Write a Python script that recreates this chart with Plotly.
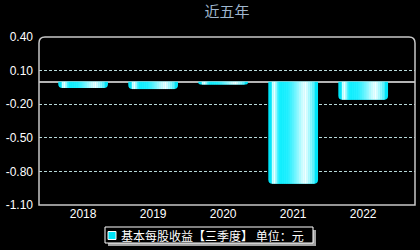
import plotly.graph_objects as go

years = ["2018", "2019", "2020", "2021", "2022"]
eps = [-0.055, -0.065, -0.025, -0.91, -0.16]
y_ticks = [0.40, 0.10, -0.20, -0.50, -0.80, -1.10]
y_tick_labels = ["0.40", "0.10", "-0.20", "-0.50", "-0.80", "-1.10"]
series_name = "基本每股收益【三季度】 单位：元"

L, R, T, B = 39, 5, 37, 45
PW, PH = 420 - L - R, 250 - T - B

def px(x):
    return (x - L) / PW

def py(y):
    return (250 - B - y) / PH

BAR_W = 0.71
fig = go.Figure()

fig.add_trace(go.Bar(
    x=list(range(len(years))), y=eps, name=series_name,
    width=BAR_W, marker=dict(color="#00e4f8", line=dict(width=0), cornerradius=4),
    showlegend=False, hoverinfo="skip",
))

stops = [(0.00, (0, 216, 240)), (0.08, (190, 255, 255)), (0.13, (235, 255, 255)),
         (0.22, (16, 240, 255)), (0.40, (40, 240, 255)), (0.60, (150, 248, 255)),
         (0.75, (245, 255, 255)), (0.86, (150, 248, 255)), (1.00, (0, 228, 248))]

def col(f):
    for (a, ca), (b, cb) in zip(stops[:-1], stops[1:]):
        if a <= f <= b:
            t = (f - a) / (b - a)
            c = [round(ca[i] + (cb[i] - ca[i]) * t) for i in range(3)]
            return "rgb(%d,%d,%d)" % tuple(c)
    return "rgb(0,228,248)"

n = 22
f0, f1 = 0.07, 0.93
sw = (f1 - f0) / n
for k in range(n):
    fc = f0 + sw * (k + 0.5)
    fig.add_trace(go.Bar(
        x=list(range(len(years))), y=eps, width=BAR_W * sw * 1.05,
        offset=-BAR_W / 2 + BAR_W * (f0 + sw * k),
        marker=dict(color=col(fc), line=dict(width=0)), showlegend=False, hoverinfo="skip",
    ))

rx, ry = 6 / PW, 6 / PH
path = f"M 0,0 L 0,{1-ry} Q 0,1 {rx},1 L {1-rx},1 Q 1,1 1,{1-ry} L 1,0 Z"
fig.add_shape(type="path", path=path, xref="paper", yref="paper",
              line=dict(color="#c8c8c8", width=1.5), layer="above")

# legend: shadow, box, swatch, text
fig.add_shape(type="rect", xref="paper", yref="paper",
              x0=px(108), x1=px(316), y0=py(246), y1=py(230),
              fillcolor="#a0a0a0", line=dict(width=0), layer="below")
fig.add_shape(type="rect", xref="paper", yref="paper",
              x0=px(105), x1=px(313), y0=py(243), y1=py(227),
              fillcolor="#000000", line=dict(color="#ffffff", width=1), layer="below")
fig.add_shape(type="rect", xref="paper", yref="paper",
              x0=px(108), x1=px(116), y0=py(239.5), y1=py(231.5),
              fillcolor="#00e4f8", line=dict(color="#ffffff", width=1), layer="above")
fig.add_annotation(text=series_name, xref="paper", yref="paper", x=px(119), y=py(235.5),
                   xanchor="left", yanchor="middle", showarrow=False,
                   font=dict(family="Noto Sans CJK SC", size=12, color="#ffffff"))

fig.update_layout(
    width=420, height=250,
    margin=dict(l=L, r=R, t=T, b=B, autoexpand=False),
    paper_bgcolor="#000000", plot_bgcolor="#000000",
    barmode="overlay",
    showlegend=False,
    title=dict(text="近五年", x=0.5, xref="paper", xanchor="center", y=0.955, yanchor="middle",
               font=dict(family="Noto Sans CJK SC", size=15, color="#9fb6cd")),
    xaxis=dict(range=[-0.63, 4.74], tickvals=list(range(len(years))), ticktext=years,
               showgrid=False, zeroline=False, showline=False, ticks="",
               tickfont=dict(family="Liberation Sans, Arial", size=12, color="#ffffff")),
    yaxis=dict(range=[-1.10, 0.40], tickvals=y_ticks, ticktext=y_tick_labels,
               showgrid=True, gridcolor="#b8d8d8", griddash="3px,2px", gridwidth=1,
               zeroline=True, zerolinecolor="#b4b4b4", zerolinewidth=1.5,
               showline=False, ticks="", ticklabelstandoff=5,
               tickfont=dict(family="Liberation Sans, Arial", size=12, color="#ffffff")),
)

fig.write_html("out.html")
